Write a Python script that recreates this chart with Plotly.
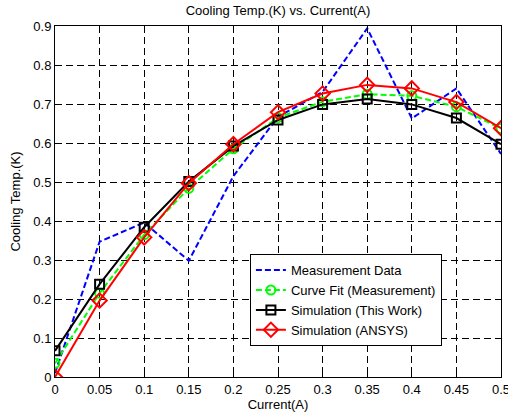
import plotly.graph_objects as go

current = [0, 0.05, 0.1, 0.15, 0.2, 0.25, 0.3, 0.35, 0.4, 0.45, 0.5]
measurement = [0.01, 0.347, 0.396, 0.298, 0.515, 0.667, 0.731, 0.894, 0.663, 0.740, 0.572]
curve_fit = [0.035, 0.215, 0.365, 0.484, 0.585, 0.665, 0.706, 0.725, 0.721, 0.693, 0.637]
sim_this_work = [0.067, 0.238, 0.384, 0.501, 0.592, 0.659, 0.699, 0.713, 0.699, 0.664, 0.597]
sim_ansys = [0.0, 0.196, 0.358, 0.497, 0.597, 0.679, 0.727, 0.749, 0.740, 0.705, 0.638]

x_ticks = [0, 0.05, 0.1, 0.15, 0.2, 0.25, 0.3, 0.35, 0.4, 0.45, 0.5]
x_tick_labels = ["0", "0.05", "0.1", "0.15", "0.2", "0.25", "0.3", "0.35", "0.4", "0.45", "0.5"]
y_ticks = [0, 0.1, 0.2, 0.3, 0.4, 0.5, 0.6, 0.7, 0.8, 0.9]
y_tick_labels = ["0", "0.1", "0.2", "0.3", "0.4", "0.5", "0.6", "0.7", "0.8", "0.9"]

FONT = "Liberation Sans, Arial, sans-serif"

fig = go.Figure()
fig.add_trace(go.Scatter(
    x=current, y=measurement, mode="lines", name="Measurement Data",
    line=dict(color="#0000ff", width=2, dash="6px,3px")))
fig.add_trace(go.Scatter(
    x=current, y=curve_fit, mode="lines+markers", name="Curve Fit (Measurement)",
    line=dict(color="#00ff00", width=2, dash="6px,3px"),
    marker=dict(symbol="circle-open", size=9, color="#00ff00", line=dict(width=2))))
fig.add_trace(go.Scatter(
    x=current, y=sim_this_work, mode="lines+markers", name="Simulation (This Work)",
    line=dict(color="#000000", width=2),
    marker=dict(symbol="square-open", size=9, color="#000000", line=dict(width=2))))
fig.add_trace(go.Scatter(
    x=current, y=sim_ansys, mode="lines+markers", name="Simulation (ANSYS)",
    line=dict(color="#ff0000", width=2),
    marker=dict(symbol="diamond-open", size=11, color="#ff0000", line=dict(width=2))))

axis_common = dict(
    showline=True, linecolor="black", linewidth=1, mirror="ticks",
    showgrid=True, gridcolor="black", gridwidth=1, griddash="7px,4px",
    ticks="inside", ticklen=4, tickcolor="black",
    zeroline=False, tickfont=dict(family=FONT, size=13, color="black"),
    ticklabeloverflow="allow", automargin=False,
)

fig.update_layout(
    width=508, height=417,
    margin=dict(l=55, r=7, t=26, b=40, autoexpand=False),
    paper_bgcolor="white", plot_bgcolor="white",
    font=dict(family=FONT, size=13, color="black"),
    title=dict(text="Cooling Temp.(K) vs. Current(A)", x=0.5, xref="paper",
               y=1 - 10 / 417, yanchor="middle",
               font=dict(family=FONT, size=13, color="black")),
    xaxis=dict(range=[0, 0.5], tickvals=x_ticks, ticktext=x_tick_labels,
               title=dict(text="Current(A)", font=dict(family=FONT, size=13), standoff=3),
               **axis_common),
    yaxis=dict(range=[0, 0.9], tickvals=y_ticks, ticktext=y_tick_labels,
               title=dict(text="Cooling Temp.(K)", font=dict(family=FONT, size=13), standoff=9),
               **axis_common),
    legend=dict(x=0.437, y=0.35, xanchor="left", yanchor="top",
                bgcolor="white", bordercolor="black", borderwidth=1,
                font=dict(family=FONT, size=13, color="black"),
                tracegroupgap=0, itemwidth=30),
    showlegend=True,
)

fig.write_html("out.html", config={"displayModeBar": False},
               post_script="document.body.style.margin='0';document.body.style.overflow='hidden';")
